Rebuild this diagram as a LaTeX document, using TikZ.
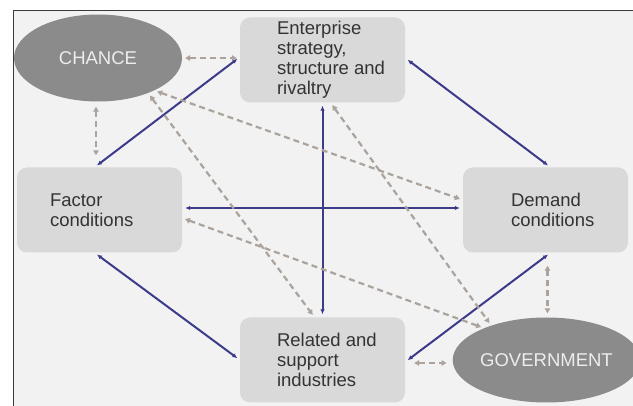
\documentclass[tikz,border=0pt]{standalone}
\usepackage{fontspec}
\setmainfont{Liberation Sans}
\usetikzlibrary{arrows.meta,shapes.geometric}
\definecolor{panelbg}{HTML}{F2F2F2}
\definecolor{framecol}{HTML}{3A3A3A}
\definecolor{boxfill}{HTML}{DAD9D9}
\definecolor{ovalfill}{HTML}{8C8B8B}
\definecolor{ovaltext}{HTML}{EDEDED}
\definecolor{bodytext}{HTML}{333333}
\definecolor{linkblue}{HTML}{3B3B8A}
\definecolor{linkgray}{HTML}{ABA39C}
\tikzset{
  factorbox/.style={draw=none, fill=boxfill, rounded corners=10pt,
    minimum width=165pt, minimum height=85pt, inner sep=0pt},
  outside/.style={ellipse, draw=none, fill=ovalfill, inner sep=0pt,
    text=ovaltext, font=\fontsize{18.5}{20}\selectfont},
  lbl/.style={anchor=west, align=left, inner sep=0pt, text=bodytext,
    font=\fontsize{18.5}{20}\selectfont},
  strong/.style={draw=linkblue, line width=2pt,
    {Latex[length=5pt,width=4.5pt]}-{Latex[length=5pt,width=4.5pt]},
    shorten <=3pt, shorten >=3pt},
  weak/.style={draw=linkgray, line width=2.2pt, dash pattern=on 6pt off 4pt,
    {Triangle[length=5pt,width=5.5pt]}-{Triangle[length=5pt,width=5.5pt]},
    shorten <=3pt, shorten >=3pt}
}
\begin{document}
\begin{tikzpicture}[x=1pt,y=-1pt]
  % page and panel
  \useasboundingbox (0,0) rectangle (633,406);
  \fill[white] (0,0) rectangle (633,406);
  \fill[panelbg] (13,11) rectangle (633,406);
  \draw[framecol, line width=1pt] (13,406) -- (13,11) -- (633,11);

  % determinants
  \node[factorbox] (ent) at (322.5,60) {};
  \node[factorbox] (fac) at (99.5,210) {};
  \node[factorbox] (dem) at (545.5,210) {};
  \node[factorbox] (rel) at (322.5,360) {};
  \node[lbl] (entT) at ([xshift=37pt]ent.west) {Enterprise\\strategy,\\structure and\\rivaltry};
  \node[lbl] (facT) at ([xshift=33pt]fac.west) {Factor\\conditions};
  \node[lbl] (demT) at ([xshift=48pt]dem.west) {Demand\\conditions};
  \node[lbl] (relT) at ([xshift=37pt]rel.west) {Related and\\support\\industries};

  % external influences
  \node[outside, minimum width=168pt, minimum height=87pt] (chance) at (98,58) {CHANCE};
  \node[outside, minimum width=163pt, minimum height=85pt] (gov) at (546.5,360) {GOVERNMENT};

  % links between the determinants
  \draw[strong] ([xshift=-5pt]fac.north) -- ([yshift=3pt]ent.west);
  \draw[strong] ([yshift=2pt]ent.east) -- ([xshift=5pt]dem.north);
  \draw[strong] ([yshift=2pt]fac.east) -- ([yshift=2pt]dem.west);
  \draw[strong] (ent.south) -- (rel.north);
  \draw[strong] ([xshift=-5pt]fac.south) -- (rel.west);
  \draw[strong] ([yshift=-2pt]rel.east) -- ([xshift=5pt]dem.south);

  % influences of chance and government
  \draw[weak] (chance.east) -- (chance.east -| ent.west);
  \draw[weak, shorten <=5pt, shorten >=12pt] ([xshift=-2pt]chance.south) -- ([xshift=-2pt]chance.south |- fac.north);
  \draw[weak] (chance.-30) -- ([yshift=10pt]dem.west);
  \draw[weak] (chance.-35) -- ([xshift=-8pt]rel.north);
  \draw[weak] ([xshift=8pt]ent.south) -- (gov.148);
  \draw[weak] ([yshift=-8pt]fac.east) -- (gov.153);
  \draw[weak, shorten <=13pt, shorten >=4pt] ([xshift=2pt]dem.south) -- ([xshift=2pt]dem.south |- gov.north);
  \draw[weak, shorten <=9pt, shorten >=6pt] ([yshift=-3pt]rel.east) -- ([yshift=-3pt]rel.east -| gov.west);
\end{tikzpicture}
\end{document}
